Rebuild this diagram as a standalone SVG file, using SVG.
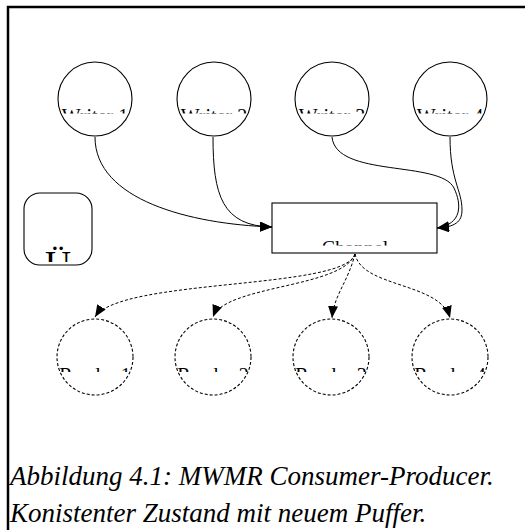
<svg xmlns="http://www.w3.org/2000/svg" width="525" height="530" viewBox="0 0 525 530">
<style>
.node{fill:#fff;stroke:#000;stroke-width:1.1}
.dash{stroke-dasharray:3,2}
.lbl{font-family:"Liberation Serif","Times New Roman",serif;font-size:20px;text-anchor:middle;fill:#000}
.edge{fill:none;stroke:#000;stroke-width:1}
.cap{font-family:"Liberation Serif","Times New Roman",serif;font-style:italic;font-size:27px;fill:#000}
</style>
<defs>
<marker id="ah" viewBox="0 0 12 10" refX="12" refY="5" markerWidth="12" markerHeight="10" markerUnits="userSpaceOnUse" orient="auto">
<path d="M0,0 L12,5 L0,10 Z" fill="#000"/>
</marker>
<clipPath id="cw"><rect x="0" y="100" width="525" height="13.5"/></clipPath>
<clipPath id="cr"><rect x="0" y="360" width="525" height="12"/></clipPath>
<clipPath id="cc"><rect x="0" y="230" width="525" height="15.5"/></clipPath>
<clipPath id="cu"><rect x="0" y="235" width="525" height="27"/></clipPath>
</defs>
<path d="M8,530 V7 H525" fill="none" stroke="#000" stroke-width="2.5"/>
<g id="connectors">
<path class="edge" d="M95,137 C95,200 190,224 272,227" marker-end="url(#ah)"/>
<path class="edge" d="M213,137 C213,195 222,226 272,227" marker-end="url(#ah)"/>
<path class="edge" d="M332,137 C336,178 440,160 454,188 C462,205 462,224 437,228" marker-end="url(#ah)"/>
<path class="edge" d="M450,137 C450,180 462,190 462,210 C462,222 455,227 437,228" marker-end="url(#ah)"/>
<path class="edge dash" d="M355,254 C345,290 120,278 95,317" marker-end="url(#ah)"/>
<path class="edge dash" d="M355,254 C343,288 225,285 213,317" marker-end="url(#ah)"/>
<path class="edge dash" d="M355,254 C348,282 334,295 332,318" marker-end="url(#ah)"/>
<path class="edge dash" d="M355,254 C362,288 440,282 450,318" marker-end="url(#ah)"/>
</g>
<g id="writer1"><circle class="node" cx="95" cy="99" r="37"/><text class="lbl" x="95" y="123" clip-path="url(#cw)">Writer 1</text></g>
<g id="writer2"><circle class="node" cx="214" cy="99" r="37"/><text class="lbl" x="214" y="123" clip-path="url(#cw)">Writer 2</text></g>
<g id="writer3"><circle class="node" cx="332" cy="99" r="37"/><text class="lbl" x="332" y="123" clip-path="url(#cw)">Writer 3</text></g>
<g id="writer4"><circle class="node" cx="450" cy="99" r="37"/><text class="lbl" x="450" y="123" clip-path="url(#cw)">Writer 4</text></g>
<g id="channel"><rect class="node" x="272" y="203" width="165" height="50"/><text class="lbl" x="355" y="255" clip-path="url(#cc)">Channel</text></g>
<g id="ue"><rect class="node" x="24" y="193" width="68" height="72" rx="16"/><text class="lbl" x="58" y="276" style="font-size:36px" clip-path="url(#cu)">Ü</text></g>
<g id="reader1"><circle class="node dash" cx="95" cy="357" r="38"/><text class="lbl" x="95" y="382" clip-path="url(#cr)">Reader 1</text></g>
<g id="reader2"><circle class="node dash" cx="213" cy="357" r="38"/><text class="lbl" x="213" y="382" clip-path="url(#cr)">Reader 2</text></g>
<g id="reader3"><circle class="node dash" cx="331" cy="357" r="38"/><text class="lbl" x="331" y="382" clip-path="url(#cr)">Reader 3</text></g>
<g id="reader4"><circle class="node dash" cx="450" cy="357" r="38"/><text class="lbl" x="450" y="382" clip-path="url(#cr)">Reader 4</text></g>
<text class="cap" x="10" y="485">Abbildung 4.1: MWMR Consumer-Producer.</text>
<text class="cap" x="10" y="522">Konistenter Zustand mit neuem Puffer.</text>
</svg>
